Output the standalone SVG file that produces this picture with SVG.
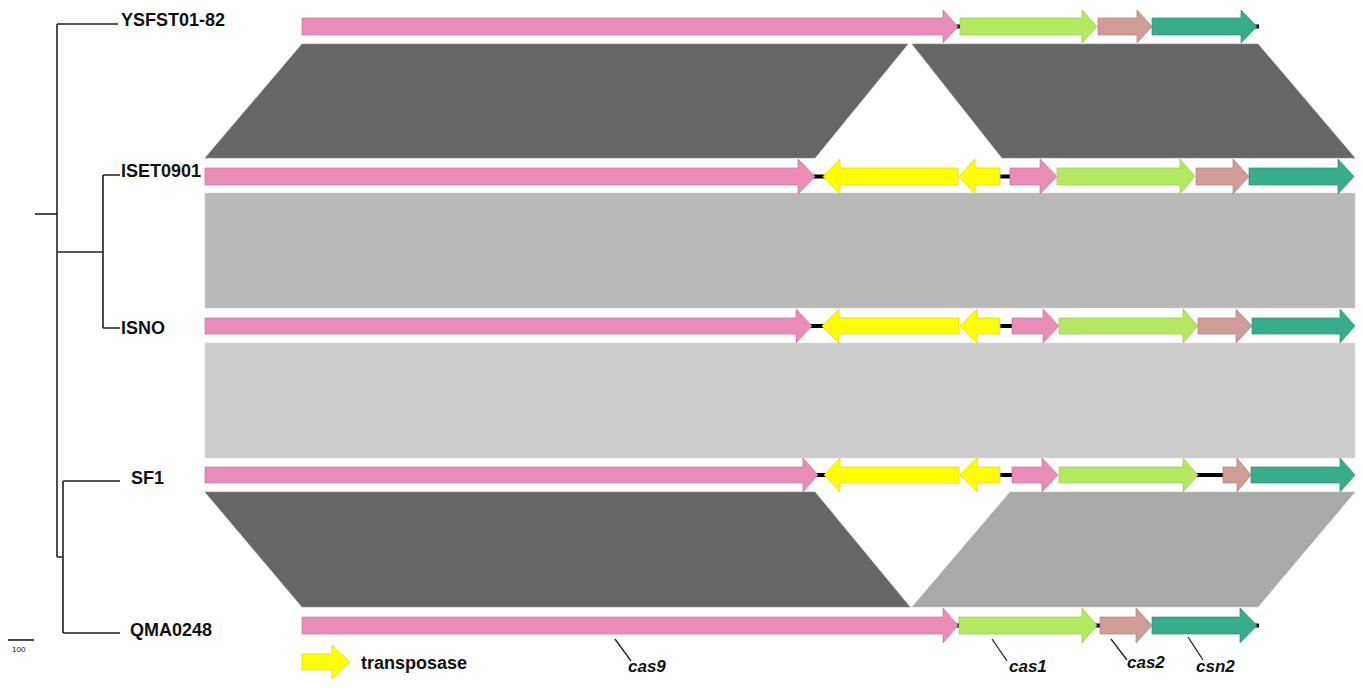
<svg xmlns="http://www.w3.org/2000/svg" width="1363" height="700" viewBox="0 0 1363 700">
  <defs>
    <style>
      .lbl { font-family: "Liberation Sans", Arial, sans-serif; font-weight: bold; font-size: 18px; fill: #111; }
      .gene { font-family: "Liberation Sans", Arial, sans-serif; font-weight: bold; font-style: italic; font-size: 17px; fill: #111; }
      .tree { stroke: #222; stroke-width: 1.6; fill: none; }
      .lead { stroke: #222; stroke-width: 1.3; }
      .cas9 { fill: #e98cb8; stroke: #c9769c; stroke-width: 0.7; }
      .cas1 { fill: #b4e860; stroke: #98c94e; stroke-width: 0.7; }
      .cas2 { fill: #d09c97; stroke: #b3827d; stroke-width: 0.7; }
      .csn2 { fill: #38ad8b; stroke: #2a8f72; stroke-width: 0.7; }
      .tpase { fill: #ffff00; stroke: #d8d800; stroke-width: 0.7; }
      .spacer { fill: #000; }
      .dark { fill: #666666; stroke: #8a8a8a; stroke-width: 0.6; }
    </style>
  </defs>

  <!-- phylogenetic tree -->
  <g id="tree">
    <path class="tree" d="M35 214 H57"/>
    <path class="tree" d="M57 24 V557"/>
    <path class="tree" d="M57 24 H118"/>
    <path class="tree" d="M57 252 H103 M103 175 V328 M103 175 H120 M103 328 H120"/>
    <path class="tree" d="M57 557 H63 M63 481 V633 M63 481 H120 M63 633 H120"/>
    <path class="tree" d="M8 640 H34" stroke-width="1.2"/>
    <text x="12" y="652" font-family="Liberation Sans, Arial, sans-serif" font-size="8" fill="#111">100</text>
  </g>

  <!-- strain labels -->
  <g id="label-YSFST01-82"><text class="lbl" x="121" y="26">YSFST01-82</text></g>
  <g id="label-ISET0901"><text class="lbl" x="121" y="177">ISET0901</text></g>
  <g id="label-ISNO"><text class="lbl" x="121" y="334">ISNO</text></g>
  <g id="label-SF1"><text class="lbl" x="131" y="484">SF1</text></g>
  <g id="label-QMA0248"><text class="lbl" x="130" y="636">QMA0248</text></g>

  <!-- homology bands between neighbouring loci -->
  <g id="bands">
    <polygon class="dark" points="302,44 908,44 815,158 205,158"/>
    <polygon class="dark" points="912,44 1258,44 1355,158 1002,158"/>
    <rect x="205" y="193" width="1150" height="115" fill="#b9b9b9" stroke="#d0d0d0" stroke-width="0.6"/>
    <rect x="205" y="343" width="1150" height="115" fill="#cbcbcb" stroke="#dddddd" stroke-width="0.6"/>
    <polygon class="dark" points="205,492 815,492 910,607 302,607"/>
    <polygon points="1010,492 1355,492 1258,607 912,607" fill="#a9a9a9" stroke="#c4c4c4" stroke-width="0.6"/>
  </g>

  <!-- locus YSFST01-82 -->
  <g id="locus-YSFST01-82">
    <rect class="spacer" x="956" y="24.5" width="5" height="4"/>
    <rect class="spacer" x="1255" y="24.5" width="4" height="4"/>
    <polygon class="cas9" points="302,18 943,18 943,10 958,26.5 943,43 943,35 302,35"/>
    <polygon class="cas1" points="960,18 1082,18 1082,10 1097,26.5 1082,43 1082,35 960,35"/>
    <polygon class="cas2" points="1098,18 1137,18 1137,10 1152,26.5 1137,43 1137,35 1098,35"/>
    <polygon class="csn2" points="1152,18 1241,18 1241,10 1257,26.5 1241,43 1241,35 1152,35"/>
  </g>

  <!-- locus ISET0901 -->
  <g id="locus-ISET0901">
    <rect class="spacer" x="813" y="174.5" width="12" height="4"/>
    <rect class="spacer" x="998" y="174.5" width="14" height="4"/>
    <polygon class="cas9" points="205,168 798,168 798,159 815,176.5 798,194 798,185 205,185"/>
    <polygon class="tpase" points="958,168 840,168 840,159 823,176.5 840,194 840,185 958,185"/>
    <polygon class="tpase" points="1000,168 975,168 975,159 959,176.5 975,194 975,185 1000,185"/>
    <polygon class="cas9" points="1010,168 1040,168 1040,159 1057,176.5 1040,194 1040,185 1010,185"/>
    <polygon class="cas1" points="1057,168 1180,168 1180,159 1195,176.5 1180,194 1180,185 1057,185"/>
    <polygon class="cas2" points="1196,168 1233,168 1233,159 1249,176.5 1233,194 1233,185 1196,185"/>
    <polygon class="csn2" points="1249,168 1338,168 1338,159 1354,176.5 1338,194 1338,185 1249,185"/>
  </g>

  <!-- locus ISNO -->
  <g id="locus-ISNO">
    <rect class="spacer" x="810" y="324" width="14" height="4"/>
    <rect class="spacer" x="999" y="324" width="15" height="4"/>
    <polygon class="cas9" points="205,318 796,318 796,309 812,326 796,343 796,334 205,334"/>
    <polygon class="tpase" points="959,318 839,318 839,309 822,326 839,343 839,334 959,334"/>
    <polygon class="tpase" points="1000,318 977,318 977,309 960,326 977,343 977,334 1000,334"/>
    <polygon class="cas9" points="1012,318 1043,318 1043,309 1059,326 1043,343 1043,334 1012,334"/>
    <polygon class="cas1" points="1059,318 1183,318 1183,309 1198,326 1183,343 1183,334 1059,334"/>
    <polygon class="cas2" points="1198,318 1236,318 1236,309 1252,326 1236,343 1236,334 1198,334"/>
    <polygon class="csn2" points="1252,318 1340,318 1340,309 1355,326 1340,343 1340,334 1252,334"/>
  </g>

  <!-- locus SF1 -->
  <g id="locus-SF1">
    <rect class="spacer" x="816" y="473" width="10" height="4"/>
    <rect class="spacer" x="999" y="473" width="15" height="4"/>
    <rect class="spacer" x="1196" y="473" width="30" height="4"/>
    <polygon class="cas9" points="205,467 803,467 803,458 818,475 803,492 803,483 205,483"/>
    <polygon class="tpase" points="959,467 840,467 840,458 824,475 840,492 840,483 959,483"/>
    <polygon class="tpase" points="1000,467 977,467 977,458 960,475 977,492 977,483 1000,483"/>
    <polygon class="cas9" points="1012,467 1042,467 1042,458 1058,475 1042,492 1042,483 1012,483"/>
    <polygon class="cas1" points="1059,467 1183,467 1183,458 1198,475 1183,492 1183,483 1059,483"/>
    <polygon class="cas2" points="1223,467 1237,467 1237,458 1251,475 1237,492 1237,483 1223,483"/>
    <polygon class="csn2" points="1251,467 1340,467 1340,458 1355,475 1340,492 1340,483 1251,483"/>
  </g>

  <!-- locus QMA0248 -->
  <g id="locus-QMA0248">
    <rect class="spacer" x="956" y="623.5" width="5" height="4"/>
    <rect class="spacer" x="1095" y="623.5" width="7" height="4"/>
    <rect class="spacer" x="1255" y="623.5" width="4" height="4"/>
    <polygon class="cas9" points="302,617 943,617 943,608 958,625.5 943,643 943,634 302,634"/>
    <polygon class="cas1" points="959,617 1082,617 1082,608 1097,625.5 1082,643 1082,634 959,634"/>
    <polygon class="cas2" points="1100,617 1136,617 1136,608 1152,625.5 1136,643 1136,634 1100,634"/>
    <polygon class="csn2" points="1152,617 1240,617 1240,608 1257,625.5 1240,643 1240,634 1152,634"/>
  </g>

  <!-- gene name callouts -->
  <g id="gene-labels">
    <line class="lead" x1="615" y1="639" x2="631" y2="661"/>
    <text class="gene" x="628" y="672">cas9</text>
    <line class="lead" x1="992" y1="639" x2="1007" y2="661"/>
    <text class="gene" x="1009" y="672">cas1</text>
    <line class="lead" x1="1111" y1="639" x2="1127" y2="660"/>
    <text class="gene" x="1127" y="668">cas2</text>
    <line class="lead" x1="1188" y1="637" x2="1203" y2="660"/>
    <text class="gene" x="1196" y="672">csn2</text>
  </g>

  <!-- legend -->
  <g id="legend">
    <polygon class="tpase" points="302,654 332,654 332,645 350,662 332,679 332,670 302,670"/>
    <text class="lbl" x="361" y="669">transposase</text>
  </g>
</svg>
